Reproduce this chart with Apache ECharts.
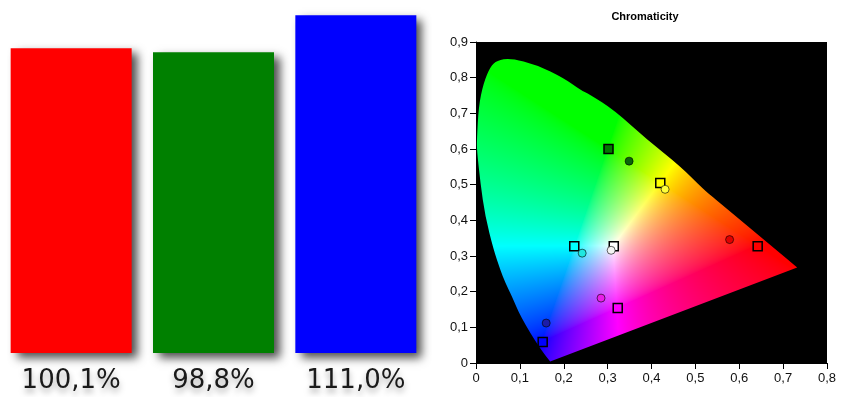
<!DOCTYPE html>
<html>
<head>
<meta charset="utf-8">
<script src="https://cdn.jsdelivr.net/npm/echarts@6/dist/echarts.min.js"></script>
<style>
  html, body { margin: 0; padding: 0; background: #fff; }
  #main { width: 844px; height: 397px; }
</style>
</head>
<body>
<div id="main"></div>
<script>
// gamut coverage of the primaries (left panel)
const barNames = ['Red', 'Green', 'Blue'];
const barValues = [100.1, 98.8, 111.0];
const barColors = ['#ff0000', '#008000', '#0000ff'];

// outline of the colour horseshoe (x, y)
const locus = [
  [0.169, 0.004], [0.147, 0.037], [0.101, 0.131], [0.082, 0.187], [0.067, 0.224],
  [0.055, 0.262], [0.040, 0.318], [0.021, 0.411], [0.010, 0.505], [0.002, 0.598],
  [0.002, 0.626], [0.006, 0.719], [0.017, 0.785], [0.033, 0.832], [0.048, 0.848],
  [0.078, 0.855], [0.139, 0.836], [0.200, 0.799], [0.238, 0.766], [0.260, 0.752],
  [0.314, 0.710], [0.390, 0.626], [0.466, 0.551], [0.519, 0.486], [0.542, 0.463],
  [0.732, 0.268]
];

// target points (squares) and measured points (circles)
const targetPts = [
  [0.302, 0.600], [0.420, 0.505], [0.224, 0.327], [0.314, 0.327],
  [0.642, 0.327], [0.323, 0.154], [0.152, 0.059]
];
const targetColors = ['#007a00', '#ffff00', '#00ffff', '#ffffff', '#ff0000', '#ff00ff', '#0000ff'];

const measuredPts = [
  [0.349, 0.566], [0.431, 0.487], [0.242, 0.308], [0.308, 0.316],
  [0.578, 0.346], [0.285, 0.182], [0.160, 0.112]
];
const measuredColors = ['#0a640a', '#ffff3a', '#20e8e0', '#f4f4f4', '#e00000', '#e81ee8', '#1c1ca8'];

const fmtPct = v => v.toFixed(1).replace('.', ',') + '%';
const fmtAxis = v => String(v).replace('.', ',');

// xy -> display colour for the filled diagram
function xyColor(x, y) {
  const X = x / y, Z = (1 - x - y) / y;
  let r = 3.2406 * X - 1.5372 - 0.4986 * Z;
  let g = -0.9689 * X + 1.8758 + 0.0415 * Z;
  let b = 0.0557 * X - 0.2040 + 1.0570 * Z;
  r = Math.max(r, 0); g = Math.max(g, 0); b = Math.max(b, 0);
  const m = Math.max(r, g, b) || 1;
  return [r / m, g / m, b / m].map(c => Math.round(255 * Math.pow(c, 1 / 1.5)));
}

let gamutCanvas = null;
function renderGamut(params, api) {
  const bl = api.coord([0, 0]);      // bottom-left of the plot
  const tr = api.coord([0.8, 0.9]);  // top-right of the plot
  const left = bl[0], top = tr[1];
  const w = Math.round(tr[0] - bl[0]);
  const h = Math.round(bl[1] - tr[1]);
  if (!gamutCanvas) {
    const c = document.createElement('canvas');
    c.width = w; c.height = h;
    const ctx = c.getContext('2d');
    const img = ctx.createImageData(w, h);
    for (let j = 0; j < h; j++) {
      for (let i = 0; i < w; i++) {
        const x = (i + 0.5) / w * 0.8;
        const y = (h - j - 0.5) / h * 0.9;
        if (y < 0.001) continue;
        const col = xyColor(x, y);
        const k = (j * w + i) * 4;
        img.data[k] = col[0]; img.data[k + 1] = col[1]; img.data[k + 2] = col[2]; img.data[k + 3] = 255;
      }
    }
    ctx.putImageData(img, 0, 0);
    // keep only what lies inside the outline (smoothed curve, straight purple line)
    const pts = locus.map(p => {
      const q = api.coord(p);
      return [q[0] - left, q[1] - top];
    });
    ctx.globalCompositeOperation = 'destination-in';
    ctx.beginPath();
    ctx.moveTo(pts[0][0], pts[0][1]);
    for (let k = 1; k < pts.length - 2; k++) {
      const mx = (pts[k][0] + pts[k + 1][0]) / 2;
      const my = (pts[k][1] + pts[k + 1][1]) / 2;
      ctx.quadraticCurveTo(pts[k][0], pts[k][1], mx, my);
    }
    const n = pts.length;
    ctx.quadraticCurveTo(pts[n - 2][0], pts[n - 2][1], pts[n - 1][0], pts[n - 1][1]);
    ctx.closePath();
    ctx.fillStyle = '#000';
    ctx.fill();
    gamutCanvas = c;
  }
  return {
    type: 'image',
    style: { image: gamutCanvas, x: left, y: top, width: w, height: h }
  };
}

const chart = echarts.init(document.getElementById('main'));

const axisLabelStyle = {
  color: '#111',
  fontFamily: 'Liberation Sans',
  fontSize: 13,
  formatter: fmtAxis
};

const option = {
  animation: false,
  title: {
    text: 'Chromaticity',
    left: 640,
    textAlign: 'center',
    top: 6,
    textStyle: { fontFamily: 'Liberation Sans', fontWeight: 'bold', fontSize: 11, color: '#000' }
  },
  grid: [
    { left: 0, width: 427, top: 3, bottom: 44 },
    { left: 476, right: 17, top: 42, bottom: 34, show: true, backgroundColor: '#000', borderWidth: 0 }
  ],
  xAxis: [
    {
      gridIndex: 0,
      type: 'category',
      data: barNames,
      axisLine: { show: false },
      axisTick: { show: false },
      axisLabel: {
        margin: 15,
        color: '#1a1a1a',
        fontFamily: 'DejaVu Sans',
        fontSize: 26,
        textShadowColor: 'rgba(0,0,0,0.35)',
        textShadowBlur: 6,
        textShadowOffsetY: 4,
        formatter: (v, i) => fmtPct(barValues[i])
      }
    },
    {
      gridIndex: 1,
      type: 'value',
      min: 0,
      max: 0.8,
      interval: 0.1,
      splitLine: { show: false },
      axisLine: { onZero: false, lineStyle: { color: '#000', width: 1 } },
      axisTick: { length: 6, lineStyle: { color: '#000' } },
      axisLabel: Object.assign({ margin: 9 }, axisLabelStyle)
    }
  ],
  yAxis: [
    { gridIndex: 0, type: 'value', min: 0, max: 115, show: false },
    {
      gridIndex: 1,
      type: 'value',
      min: 0,
      max: 0.9,
      interval: 0.1,
      splitLine: { show: false },
      axisLine: { show: true, onZero: false, lineStyle: { color: '#000', width: 1 } },
      axisTick: { show: true, length: 6, lineStyle: { color: '#000' } },
      axisLabel: Object.assign({ margin: 8 }, axisLabelStyle)
    }
  ],
  series: [
    {
      type: 'bar',
      xAxisIndex: 0,
      yAxisIndex: 0,
      barWidth: 121,
      data: barValues.map((v, i) => ({
        value: v,
        itemStyle: {
          color: barColors[i],
          shadowColor: 'rgba(0,0,0,0.7)',
          shadowBlur: 9,
          shadowOffsetX: 6,
          shadowOffsetY: 5
        }
      }))
    },
    {
      type: 'custom',
      xAxisIndex: 1,
      yAxisIndex: 1,
      silent: true,
      z: 1,
      data: [[0, 0]],
      renderItem: renderGamut
    },
    {
      type: 'scatter',
      xAxisIndex: 1,
      yAxisIndex: 1,
      z: 3,
      symbol: 'rect',
      symbolSize: 9,
      data: targetPts.map((p, i) => ({
        value: p,
        itemStyle: { color: targetColors[i], opacity: 1, borderColor: '#000', borderWidth: 1.5 }
      }))
    },
    {
      type: 'scatter',
      xAxisIndex: 1,
      yAxisIndex: 1,
      z: 4,
      symbol: 'circle',
      symbolSize: 8,
      data: measuredPts.map((p, i) => ({
        value: p,
        itemStyle: { color: measuredColors[i], opacity: 1, borderColor: 'rgba(0,0,0,0.6)', borderWidth: 1 }
      }))
    }
  ]
};

chart.setOption(option);
</script>
</body>
</html>
